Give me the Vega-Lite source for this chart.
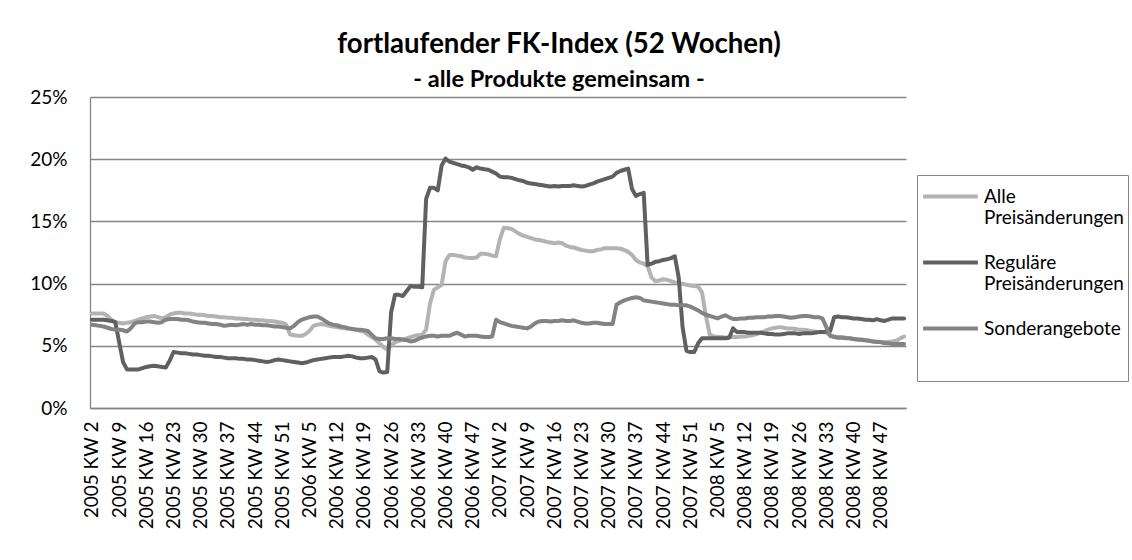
{
"$schema":"https://vega.github.io/schema/vega-lite/v6.json",
"autosize":"none",
"width":816,"height":311,
"padding":{"left":90,"top":97,"right":226,"bottom":152},
"background":"white",
"config":{"view":{"stroke":null},"font":"Lato"},
"title":{"text":"fortlaufender FK-Index (52 Wochen)","subtitle":"- alle Produkte gemeinsam -","font":"Lato","fontWeight":"bold","fontSize":27.6,"color":"black","subtitleFont":"Lato","subtitleFontWeight":"bold","subtitleFontSize":23.5,"subtitleColor":"black","subtitlePadding":9,"anchor":"middle","dx":61,"offset":-3},
"datasets":{
"alle":[
{"w":"2005 KW 2","v":7.6},{"w":"2005 KW 3","v":7.6},{"w":"2005 KW 4","v":7.6},{"w":"2005 KW 5","v":7.6},{"w":"2005 KW 6","v":7.4},{"w":"2005 KW 7","v":7.1},{"w":"2005 KW 8","v":6.9},{"w":"2005 KW 9","v":6.85},{"w":"2005 KW 10","v":6.8},{"w":"2005 KW 11","v":6.85},{"w":"2005 KW 12","v":6.9},{"w":"2005 KW 13","v":7.0},{"w":"2005 KW 14","v":7.1},{"w":"2005 KW 15","v":7.2},{"w":"2005 KW 16","v":7.3},{"w":"2005 KW 17","v":7.35},{"w":"2005 KW 18","v":7.4},{"w":"2005 KW 19","v":7.3},{"w":"2005 KW 20","v":7.2},{"w":"2005 KW 21","v":7.3},{"w":"2005 KW 22","v":7.5},{"w":"2005 KW 23","v":7.6},{"w":"2005 KW 24","v":7.65},{"w":"2005 KW 25","v":7.65},{"w":"2005 KW 26","v":7.6},{"w":"2005 KW 27","v":7.6},{"w":"2005 KW 28","v":7.55},{"w":"2005 KW 29","v":7.5},{"w":"2005 KW 30","v":7.5},{"w":"2005 KW 31","v":7.45},{"w":"2005 KW 32","v":7.4},{"w":"2005 KW 33","v":7.4},{"w":"2005 KW 34","v":7.35},{"w":"2005 KW 35","v":7.3},{"w":"2005 KW 36","v":7.3},{"w":"2005 KW 37","v":7.25},{"w":"2005 KW 38","v":7.25},{"w":"2005 KW 39","v":7.2},{"w":"2005 KW 40","v":7.2},{"w":"2005 KW 41","v":7.15},{"w":"2005 KW 42","v":7.15},{"w":"2005 KW 43","v":7.1},{"w":"2005 KW 44","v":7.1},{"w":"2005 KW 45","v":7.05},{"w":"2005 KW 46","v":7.05},{"w":"2005 KW 47","v":7.0},{"w":"2005 KW 48","v":7.0},{"w":"2005 KW 49","v":6.95},{"w":"2005 KW 50","v":6.9},{"w":"2005 KW 51","v":6.85},{"w":"2005 KW 52","v":6.7},{"w":"2005 KW 53","v":5.9},
{"w":"2006 KW 1","v":5.85},{"w":"2006 KW 2","v":5.8},{"w":"2006 KW 3","v":5.8},{"w":"2006 KW 4","v":5.95},{"w":"2006 KW 5","v":6.2},{"w":"2006 KW 6","v":6.6},{"w":"2006 KW 7","v":6.7},{"w":"2006 KW 8","v":6.75},{"w":"2006 KW 9","v":6.7},{"w":"2006 KW 10","v":6.6},{"w":"2006 KW 11","v":6.55},{"w":"2006 KW 12","v":6.5},{"w":"2006 KW 13","v":6.45},{"w":"2006 KW 14","v":6.4},{"w":"2006 KW 15","v":6.4},{"w":"2006 KW 16","v":6.35},{"w":"2006 KW 17","v":6.3},{"w":"2006 KW 18","v":6.2},{"w":"2006 KW 19","v":6.15},{"w":"2006 KW 20","v":5.9},{"w":"2006 KW 21","v":5.7},{"w":"2006 KW 22","v":5.5},{"w":"2006 KW 23","v":5.2},{"w":"2006 KW 24","v":4.9},{"w":"2006 KW 25","v":4.7},{"w":"2006 KW 26","v":5.0},{"w":"2006 KW 27","v":5.3},{"w":"2006 KW 28","v":5.4},{"w":"2006 KW 29","v":5.5},{"w":"2006 KW 30","v":5.6},{"w":"2006 KW 31","v":5.7},{"w":"2006 KW 32","v":5.8},{"w":"2006 KW 33","v":5.85},{"w":"2006 KW 34","v":5.9},{"w":"2006 KW 35","v":6.3},{"w":"2006 KW 36","v":8.4},{"w":"2006 KW 37","v":9.5},{"w":"2006 KW 38","v":9.7},{"w":"2006 KW 39","v":9.9},{"w":"2006 KW 40","v":11.8},{"w":"2006 KW 41","v":12.3},{"w":"2006 KW 42","v":12.3},{"w":"2006 KW 43","v":12.25},{"w":"2006 KW 44","v":12.2},{"w":"2006 KW 45","v":12.1},{"w":"2006 KW 46","v":12.05},{"w":"2006 KW 47","v":12.05},{"w":"2006 KW 48","v":12.1},{"w":"2006 KW 49","v":12.4},{"w":"2006 KW 50","v":12.4},{"w":"2006 KW 51","v":12.35},{"w":"2006 KW 52","v":12.25},
{"w":"2007 KW 1","v":12.2},{"w":"2007 KW 2","v":13.6},{"w":"2007 KW 3","v":14.5},{"w":"2007 KW 4","v":14.45},{"w":"2007 KW 5","v":14.4},{"w":"2007 KW 6","v":14.2},{"w":"2007 KW 7","v":14.0},{"w":"2007 KW 8","v":13.85},{"w":"2007 KW 9","v":13.75},{"w":"2007 KW 10","v":13.65},{"w":"2007 KW 11","v":13.55},{"w":"2007 KW 12","v":13.5},{"w":"2007 KW 13","v":13.45},{"w":"2007 KW 14","v":13.35},{"w":"2007 KW 15","v":13.3},{"w":"2007 KW 16","v":13.25},{"w":"2007 KW 17","v":13.3},{"w":"2007 KW 18","v":13.25},{"w":"2007 KW 19","v":13.05},{"w":"2007 KW 20","v":12.95},{"w":"2007 KW 21","v":12.9},{"w":"2007 KW 22","v":12.8},{"w":"2007 KW 23","v":12.7},{"w":"2007 KW 24","v":12.65},{"w":"2007 KW 25","v":12.6},{"w":"2007 KW 26","v":12.6},{"w":"2007 KW 27","v":12.7},{"w":"2007 KW 28","v":12.75},{"w":"2007 KW 29","v":12.85},{"w":"2007 KW 30","v":12.85},{"w":"2007 KW 31","v":12.85},{"w":"2007 KW 32","v":12.85},{"w":"2007 KW 33","v":12.8},{"w":"2007 KW 34","v":12.7},{"w":"2007 KW 35","v":12.55},{"w":"2007 KW 36","v":12.3},{"w":"2007 KW 37","v":11.9},{"w":"2007 KW 38","v":11.7},{"w":"2007 KW 39","v":11.6},{"w":"2007 KW 40","v":11.4},{"w":"2007 KW 41","v":10.5},{"w":"2007 KW 42","v":10.2},{"w":"2007 KW 43","v":10.25},{"w":"2007 KW 44","v":10.35},{"w":"2007 KW 45","v":10.3},{"w":"2007 KW 46","v":10.2},{"w":"2007 KW 47","v":10.1},{"w":"2007 KW 48","v":10.05},{"w":"2007 KW 49","v":10.0},{"w":"2007 KW 50","v":9.9},{"w":"2007 KW 51","v":9.85},{"w":"2007 KW 52","v":9.8},{"w":"2007 KW 53","v":9.75},
{"w":"2008 KW 1","v":9.3},{"w":"2008 KW 2","v":7.4},{"w":"2008 KW 3","v":5.9},{"w":"2008 KW 4","v":5.75},{"w":"2008 KW 5","v":5.7},{"w":"2008 KW 6","v":5.7},{"w":"2008 KW 7","v":5.65},{"w":"2008 KW 8","v":5.7},{"w":"2008 KW 9","v":5.7},{"w":"2008 KW 10","v":5.7},{"w":"2008 KW 11","v":5.75},{"w":"2008 KW 12","v":5.75},{"w":"2008 KW 13","v":5.8},{"w":"2008 KW 14","v":5.85},{"w":"2008 KW 15","v":5.95},{"w":"2008 KW 16","v":6.05},{"w":"2008 KW 17","v":6.15},{"w":"2008 KW 18","v":6.3},{"w":"2008 KW 19","v":6.4},{"w":"2008 KW 20","v":6.45},{"w":"2008 KW 21","v":6.5},{"w":"2008 KW 22","v":6.45},{"w":"2008 KW 23","v":6.4},{"w":"2008 KW 24","v":6.4},{"w":"2008 KW 25","v":6.35},{"w":"2008 KW 26","v":6.3},{"w":"2008 KW 27","v":6.3},{"w":"2008 KW 28","v":6.25},{"w":"2008 KW 29","v":6.2},{"w":"2008 KW 30","v":6.15},{"w":"2008 KW 31","v":6.1},{"w":"2008 KW 32","v":6.1},{"w":"2008 KW 33","v":6.05},{"w":"2008 KW 34","v":5.85},{"w":"2008 KW 35","v":5.75},{"w":"2008 KW 36","v":5.7},{"w":"2008 KW 37","v":5.7},{"w":"2008 KW 38","v":5.65},{"w":"2008 KW 39","v":5.6},{"w":"2008 KW 40","v":5.55},{"w":"2008 KW 41","v":5.5},{"w":"2008 KW 42","v":5.45},{"w":"2008 KW 43","v":5.45},{"w":"2008 KW 44","v":5.4},{"w":"2008 KW 45","v":5.35},{"w":"2008 KW 46","v":5.35},{"w":"2008 KW 47","v":5.3},{"w":"2008 KW 48","v":5.3},{"w":"2008 KW 49","v":5.3},{"w":"2008 KW 50","v":5.35},{"w":"2008 KW 51","v":5.4},{"w":"2008 KW 52","v":5.6},{"w":"2009 KW 1","v":5.75}
],
"regulaer":[
{"w":"2005 KW 2","v":7.1},{"w":"2005 KW 3","v":7.1},{"w":"2005 KW 4","v":7.1},{"w":"2005 KW 5","v":7.1},{"w":"2005 KW 6","v":7.05},{"w":"2005 KW 7","v":7.0},{"w":"2005 KW 8","v":6.9},{"w":"2005 KW 9","v":5.3},{"w":"2005 KW 10","v":3.7},{"w":"2005 KW 11","v":3.1},{"w":"2005 KW 12","v":3.1},{"w":"2005 KW 13","v":3.1},{"w":"2005 KW 14","v":3.1},{"w":"2005 KW 15","v":3.2},{"w":"2005 KW 16","v":3.3},{"w":"2005 KW 17","v":3.35},{"w":"2005 KW 18","v":3.4},{"w":"2005 KW 19","v":3.35},{"w":"2005 KW 20","v":3.3},{"w":"2005 KW 21","v":3.25},{"w":"2005 KW 22","v":3.8},{"w":"2005 KW 23","v":4.5},{"w":"2005 KW 24","v":4.45},{"w":"2005 KW 25","v":4.4},{"w":"2005 KW 26","v":4.4},{"w":"2005 KW 27","v":4.35},{"w":"2005 KW 28","v":4.3},{"w":"2005 KW 29","v":4.3},{"w":"2005 KW 30","v":4.25},{"w":"2005 KW 31","v":4.2},{"w":"2005 KW 32","v":4.2},{"w":"2005 KW 33","v":4.15},{"w":"2005 KW 34","v":4.1},{"w":"2005 KW 35","v":4.1},{"w":"2005 KW 36","v":4.05},{"w":"2005 KW 37","v":4.0},{"w":"2005 KW 38","v":4.0},{"w":"2005 KW 39","v":4.0},{"w":"2005 KW 40","v":3.95},{"w":"2005 KW 41","v":3.95},{"w":"2005 KW 42","v":3.9},{"w":"2005 KW 43","v":3.9},{"w":"2005 KW 44","v":3.85},{"w":"2005 KW 45","v":3.8},{"w":"2005 KW 46","v":3.75},{"w":"2005 KW 47","v":3.7},{"w":"2005 KW 48","v":3.75},{"w":"2005 KW 49","v":3.85},{"w":"2005 KW 50","v":3.9},{"w":"2005 KW 51","v":3.85},{"w":"2005 KW 52","v":3.8},{"w":"2005 KW 53","v":3.75},
{"w":"2006 KW 1","v":3.7},{"w":"2006 KW 2","v":3.65},{"w":"2006 KW 3","v":3.6},{"w":"2006 KW 4","v":3.65},{"w":"2006 KW 5","v":3.75},{"w":"2006 KW 6","v":3.85},{"w":"2006 KW 7","v":3.9},{"w":"2006 KW 8","v":3.95},{"w":"2006 KW 9","v":4.0},{"w":"2006 KW 10","v":4.05},{"w":"2006 KW 11","v":4.1},{"w":"2006 KW 12","v":4.1},{"w":"2006 KW 13","v":4.1},{"w":"2006 KW 14","v":4.15},{"w":"2006 KW 15","v":4.2},{"w":"2006 KW 16","v":4.15},{"w":"2006 KW 17","v":4.05},{"w":"2006 KW 18","v":4.0},{"w":"2006 KW 19","v":4.0},{"w":"2006 KW 20","v":4.05},{"w":"2006 KW 21","v":4.1},{"w":"2006 KW 22","v":3.9},{"w":"2006 KW 23","v":2.95},{"w":"2006 KW 24","v":2.85},{"w":"2006 KW 25","v":2.9},{"w":"2006 KW 26","v":7.7},{"w":"2006 KW 27","v":9.1},{"w":"2006 KW 28","v":9.1},{"w":"2006 KW 29","v":9.0},{"w":"2006 KW 30","v":9.4},{"w":"2006 KW 31","v":9.8},{"w":"2006 KW 32","v":9.75},{"w":"2006 KW 33","v":9.75},{"w":"2006 KW 34","v":9.7},{"w":"2006 KW 35","v":16.8},{"w":"2006 KW 36","v":17.7},{"w":"2006 KW 37","v":17.7},{"w":"2006 KW 38","v":17.5},{"w":"2006 KW 39","v":19.5},{"w":"2006 KW 40","v":20.05},{"w":"2006 KW 41","v":19.8},{"w":"2006 KW 42","v":19.7},{"w":"2006 KW 43","v":19.6},{"w":"2006 KW 44","v":19.5},{"w":"2006 KW 45","v":19.45},{"w":"2006 KW 46","v":19.35},{"w":"2006 KW 47","v":19.15},{"w":"2006 KW 48","v":19.35},{"w":"2006 KW 49","v":19.25},{"w":"2006 KW 50","v":19.2},{"w":"2006 KW 51","v":19.15},{"w":"2006 KW 52","v":19.0},
{"w":"2007 KW 1","v":18.85},{"w":"2007 KW 2","v":18.6},{"w":"2007 KW 3","v":18.55},{"w":"2007 KW 4","v":18.55},{"w":"2007 KW 5","v":18.5},{"w":"2007 KW 6","v":18.4},{"w":"2007 KW 7","v":18.3},{"w":"2007 KW 8","v":18.25},{"w":"2007 KW 9","v":18.1},{"w":"2007 KW 10","v":18.05},{"w":"2007 KW 11","v":18.0},{"w":"2007 KW 12","v":17.95},{"w":"2007 KW 13","v":17.9},{"w":"2007 KW 14","v":17.85},{"w":"2007 KW 15","v":17.8},{"w":"2007 KW 16","v":17.85},{"w":"2007 KW 17","v":17.8},{"w":"2007 KW 18","v":17.85},{"w":"2007 KW 19","v":17.85},{"w":"2007 KW 20","v":17.85},{"w":"2007 KW 21","v":17.9},{"w":"2007 KW 22","v":17.85},{"w":"2007 KW 23","v":17.8},{"w":"2007 KW 24","v":17.85},{"w":"2007 KW 25","v":17.95},{"w":"2007 KW 26","v":18.05},{"w":"2007 KW 27","v":18.2},{"w":"2007 KW 28","v":18.3},{"w":"2007 KW 29","v":18.4},{"w":"2007 KW 30","v":18.5},{"w":"2007 KW 31","v":18.6},{"w":"2007 KW 32","v":18.9},{"w":"2007 KW 33","v":19.05},{"w":"2007 KW 34","v":19.15},{"w":"2007 KW 35","v":19.25},{"w":"2007 KW 36","v":17.6},{"w":"2007 KW 37","v":17.05},{"w":"2007 KW 38","v":17.2},{"w":"2007 KW 39","v":17.3},{"w":"2007 KW 40","v":11.5},{"w":"2007 KW 41","v":11.6},{"w":"2007 KW 42","v":11.75},{"w":"2007 KW 43","v":11.8},{"w":"2007 KW 44","v":11.9},{"w":"2007 KW 45","v":11.95},{"w":"2007 KW 46","v":12.05},{"w":"2007 KW 47","v":12.2},{"w":"2007 KW 48","v":10.5},{"w":"2007 KW 49","v":6.5},{"w":"2007 KW 50","v":4.6},{"w":"2007 KW 51","v":4.5},{"w":"2007 KW 52","v":4.5},{"w":"2007 KW 53","v":5.2},
{"w":"2008 KW 1","v":5.6},{"w":"2008 KW 2","v":5.6},{"w":"2008 KW 3","v":5.6},{"w":"2008 KW 4","v":5.6},{"w":"2008 KW 5","v":5.6},{"w":"2008 KW 6","v":5.6},{"w":"2008 KW 7","v":5.6},{"w":"2008 KW 8","v":5.65},{"w":"2008 KW 9","v":6.4},{"w":"2008 KW 10","v":6.1},{"w":"2008 KW 11","v":6.1},{"w":"2008 KW 12","v":6.1},{"w":"2008 KW 13","v":6.05},{"w":"2008 KW 14","v":6.05},{"w":"2008 KW 15","v":6.05},{"w":"2008 KW 16","v":6.05},{"w":"2008 KW 17","v":6.0},{"w":"2008 KW 18","v":5.95},{"w":"2008 KW 19","v":5.95},{"w":"2008 KW 20","v":5.9},{"w":"2008 KW 21","v":5.9},{"w":"2008 KW 22","v":5.95},{"w":"2008 KW 23","v":6.0},{"w":"2008 KW 24","v":6.0},{"w":"2008 KW 25","v":6.0},{"w":"2008 KW 26","v":5.95},{"w":"2008 KW 27","v":6.0},{"w":"2008 KW 28","v":6.0},{"w":"2008 KW 29","v":6.0},{"w":"2008 KW 30","v":6.05},{"w":"2008 KW 31","v":6.1},{"w":"2008 KW 32","v":6.1},{"w":"2008 KW 33","v":6.15},{"w":"2008 KW 34","v":6.2},{"w":"2008 KW 35","v":7.3},{"w":"2008 KW 36","v":7.35},{"w":"2008 KW 37","v":7.3},{"w":"2008 KW 38","v":7.3},{"w":"2008 KW 39","v":7.25},{"w":"2008 KW 40","v":7.2},{"w":"2008 KW 41","v":7.2},{"w":"2008 KW 42","v":7.15},{"w":"2008 KW 43","v":7.1},{"w":"2008 KW 44","v":7.1},{"w":"2008 KW 45","v":7.05},{"w":"2008 KW 46","v":7.15},{"w":"2008 KW 47","v":7.05},{"w":"2008 KW 48","v":7.0},{"w":"2008 KW 49","v":7.1},{"w":"2008 KW 50","v":7.2},{"w":"2008 KW 51","v":7.2},{"w":"2008 KW 52","v":7.2},{"w":"2009 KW 1","v":7.2}
],
"sonder":[
{"w":"2005 KW 2","v":6.7},{"w":"2005 KW 3","v":6.65},{"w":"2005 KW 4","v":6.6},{"w":"2005 KW 5","v":6.55},{"w":"2005 KW 6","v":6.45},{"w":"2005 KW 7","v":6.35},{"w":"2005 KW 8","v":6.3},{"w":"2005 KW 9","v":6.3},{"w":"2005 KW 10","v":6.25},{"w":"2005 KW 11","v":6.15},{"w":"2005 KW 12","v":6.4},{"w":"2005 KW 13","v":6.8},{"w":"2005 KW 14","v":6.9},{"w":"2005 KW 15","v":6.9},{"w":"2005 KW 16","v":6.95},{"w":"2005 KW 17","v":6.95},{"w":"2005 KW 18","v":6.9},{"w":"2005 KW 19","v":6.85},{"w":"2005 KW 20","v":6.9},{"w":"2005 KW 21","v":7.1},{"w":"2005 KW 22","v":7.15},{"w":"2005 KW 23","v":7.15},{"w":"2005 KW 24","v":7.15},{"w":"2005 KW 25","v":7.1},{"w":"2005 KW 26","v":7.1},{"w":"2005 KW 27","v":7.05},{"w":"2005 KW 28","v":6.95},{"w":"2005 KW 29","v":6.9},{"w":"2005 KW 30","v":6.85},{"w":"2005 KW 31","v":6.85},{"w":"2005 KW 32","v":6.8},{"w":"2005 KW 33","v":6.75},{"w":"2005 KW 34","v":6.75},{"w":"2005 KW 35","v":6.7},{"w":"2005 KW 36","v":6.6},{"w":"2005 KW 37","v":6.65},{"w":"2005 KW 38","v":6.7},{"w":"2005 KW 39","v":6.65},{"w":"2005 KW 40","v":6.7},{"w":"2005 KW 41","v":6.75},{"w":"2005 KW 42","v":6.7},{"w":"2005 KW 43","v":6.75},{"w":"2005 KW 44","v":6.7},{"w":"2005 KW 45","v":6.7},{"w":"2005 KW 46","v":6.65},{"w":"2005 KW 47","v":6.65},{"w":"2005 KW 48","v":6.6},{"w":"2005 KW 49","v":6.55},{"w":"2005 KW 50","v":6.55},{"w":"2005 KW 51","v":6.5},{"w":"2005 KW 52","v":6.45},{"w":"2005 KW 53","v":6.4},
{"w":"2006 KW 1","v":6.6},{"w":"2006 KW 2","v":6.9},{"w":"2006 KW 3","v":7.1},{"w":"2006 KW 4","v":7.2},{"w":"2006 KW 5","v":7.3},{"w":"2006 KW 6","v":7.35},{"w":"2006 KW 7","v":7.35},{"w":"2006 KW 8","v":7.2},{"w":"2006 KW 9","v":7.0},{"w":"2006 KW 10","v":6.8},{"w":"2006 KW 11","v":6.7},{"w":"2006 KW 12","v":6.65},{"w":"2006 KW 13","v":6.55},{"w":"2006 KW 14","v":6.5},{"w":"2006 KW 15","v":6.4},{"w":"2006 KW 16","v":6.35},{"w":"2006 KW 17","v":6.3},{"w":"2006 KW 18","v":6.3},{"w":"2006 KW 19","v":6.25},{"w":"2006 KW 20","v":6.2},{"w":"2006 KW 21","v":5.9},{"w":"2006 KW 22","v":5.6},{"w":"2006 KW 23","v":5.55},{"w":"2006 KW 24","v":5.55},{"w":"2006 KW 25","v":5.6},{"w":"2006 KW 26","v":5.6},{"w":"2006 KW 27","v":5.55},{"w":"2006 KW 28","v":5.55},{"w":"2006 KW 29","v":5.5},{"w":"2006 KW 30","v":5.45},{"w":"2006 KW 31","v":5.35},{"w":"2006 KW 32","v":5.4},{"w":"2006 KW 33","v":5.55},{"w":"2006 KW 34","v":5.65},{"w":"2006 KW 35","v":5.75},{"w":"2006 KW 36","v":5.8},{"w":"2006 KW 37","v":5.8},{"w":"2006 KW 38","v":5.75},{"w":"2006 KW 39","v":5.8},{"w":"2006 KW 40","v":5.8},{"w":"2006 KW 41","v":5.8},{"w":"2006 KW 42","v":5.95},{"w":"2006 KW 43","v":6.05},{"w":"2006 KW 44","v":5.9},{"w":"2006 KW 45","v":5.75},{"w":"2006 KW 46","v":5.8},{"w":"2006 KW 47","v":5.8},{"w":"2006 KW 48","v":5.8},{"w":"2006 KW 49","v":5.75},{"w":"2006 KW 50","v":5.7},{"w":"2006 KW 51","v":5.7},{"w":"2006 KW 52","v":5.75},
{"w":"2007 KW 1","v":7.1},{"w":"2007 KW 2","v":6.9},{"w":"2007 KW 3","v":6.8},{"w":"2007 KW 4","v":6.7},{"w":"2007 KW 5","v":6.6},{"w":"2007 KW 6","v":6.55},{"w":"2007 KW 7","v":6.5},{"w":"2007 KW 8","v":6.45},{"w":"2007 KW 9","v":6.4},{"w":"2007 KW 10","v":6.55},{"w":"2007 KW 11","v":6.8},{"w":"2007 KW 12","v":6.95},{"w":"2007 KW 13","v":7.0},{"w":"2007 KW 14","v":7.0},{"w":"2007 KW 15","v":6.95},{"w":"2007 KW 16","v":7.0},{"w":"2007 KW 17","v":7.0},{"w":"2007 KW 18","v":7.05},{"w":"2007 KW 19","v":7.0},{"w":"2007 KW 20","v":7.0},{"w":"2007 KW 21","v":7.05},{"w":"2007 KW 22","v":6.95},{"w":"2007 KW 23","v":6.85},{"w":"2007 KW 24","v":6.8},{"w":"2007 KW 25","v":6.8},{"w":"2007 KW 26","v":6.85},{"w":"2007 KW 27","v":6.85},{"w":"2007 KW 28","v":6.8},{"w":"2007 KW 29","v":6.75},{"w":"2007 KW 30","v":6.75},{"w":"2007 KW 31","v":6.75},{"w":"2007 KW 32","v":8.3},{"w":"2007 KW 33","v":8.5},{"w":"2007 KW 34","v":8.65},{"w":"2007 KW 35","v":8.75},{"w":"2007 KW 36","v":8.85},{"w":"2007 KW 37","v":8.9},{"w":"2007 KW 38","v":8.85},{"w":"2007 KW 39","v":8.65},{"w":"2007 KW 40","v":8.6},{"w":"2007 KW 41","v":8.55},{"w":"2007 KW 42","v":8.5},{"w":"2007 KW 43","v":8.45},{"w":"2007 KW 44","v":8.4},{"w":"2007 KW 45","v":8.35},{"w":"2007 KW 46","v":8.3},{"w":"2007 KW 47","v":8.3},{"w":"2007 KW 48","v":8.25},{"w":"2007 KW 49","v":8.25},{"w":"2007 KW 50","v":8.25},{"w":"2007 KW 51","v":8.15},{"w":"2007 KW 52","v":8.0},{"w":"2007 KW 53","v":7.85},
{"w":"2008 KW 1","v":7.65},{"w":"2008 KW 2","v":7.5},{"w":"2008 KW 3","v":7.4},{"w":"2008 KW 4","v":7.3},{"w":"2008 KW 5","v":7.2},{"w":"2008 KW 6","v":7.35},{"w":"2008 KW 7","v":7.45},{"w":"2008 KW 8","v":7.3},{"w":"2008 KW 9","v":7.15},{"w":"2008 KW 10","v":7.15},{"w":"2008 KW 11","v":7.2},{"w":"2008 KW 12","v":7.2},{"w":"2008 KW 13","v":7.25},{"w":"2008 KW 14","v":7.25},{"w":"2008 KW 15","v":7.3},{"w":"2008 KW 16","v":7.3},{"w":"2008 KW 17","v":7.3},{"w":"2008 KW 18","v":7.35},{"w":"2008 KW 19","v":7.35},{"w":"2008 KW 20","v":7.4},{"w":"2008 KW 21","v":7.4},{"w":"2008 KW 22","v":7.35},{"w":"2008 KW 23","v":7.3},{"w":"2008 KW 24","v":7.25},{"w":"2008 KW 25","v":7.3},{"w":"2008 KW 26","v":7.35},{"w":"2008 KW 27","v":7.4},{"w":"2008 KW 28","v":7.4},{"w":"2008 KW 29","v":7.35},{"w":"2008 KW 30","v":7.3},{"w":"2008 KW 31","v":7.3},{"w":"2008 KW 32","v":7.2},{"w":"2008 KW 33","v":6.5},{"w":"2008 KW 34","v":5.8},{"w":"2008 KW 35","v":5.7},{"w":"2008 KW 36","v":5.65},{"w":"2008 KW 37","v":5.65},{"w":"2008 KW 38","v":5.6},{"w":"2008 KW 39","v":5.6},{"w":"2008 KW 40","v":5.55},{"w":"2008 KW 41","v":5.5},{"w":"2008 KW 42","v":5.5},{"w":"2008 KW 43","v":5.45},{"w":"2008 KW 44","v":5.4},{"w":"2008 KW 45","v":5.35},{"w":"2008 KW 46","v":5.3},{"w":"2008 KW 47","v":5.3},{"w":"2008 KW 48","v":5.2},{"w":"2008 KW 49","v":5.2},{"w":"2008 KW 50","v":5.15},{"w":"2008 KW 51","v":5.15},{"w":"2008 KW 52","v":5.15},{"w":"2009 KW 1","v":5.15}
]
},
"encoding":{
"x":{"field":"w","type":"ordinal","sort":null,"scale":{"type":"point","padding":0.5},
"axis":{"title":null,"values":["2005 KW 2","2005 KW 9","2005 KW 16","2005 KW 23","2005 KW 30","2005 KW 37","2005 KW 44","2005 KW 51","2006 KW 5","2006 KW 12","2006 KW 19","2006 KW 26","2006 KW 33","2006 KW 40","2006 KW 47","2007 KW 2","2007 KW 9","2007 KW 16","2007 KW 23","2007 KW 30","2007 KW 37","2007 KW 44","2007 KW 51","2008 KW 5","2008 KW 12","2008 KW 19","2008 KW 26","2008 KW 33","2008 KW 40","2008 KW 47"],
"labelAngle":-90,"labelAlign":"right","labelBaseline":"middle","labelPadding":13,"labelFont":"Lato","labelFontSize":19,"labelColor":"black","labelOverlap":false,"labelBound":false,"ticks":false,"grid":false,"domainColor":"#868686","domainWidth":1.3}},
"y":{"field":"v","type":"quantitative","scale":{"domain":[0,25],"nice":false,"zero":true},
"axis":{"title":null,"values":[0,5,10,15,20,25],"labelExpr":"datum.value + '%'","labelFont":"Lato","labelFontSize":19,"labelColor":"black","labelPadding":23,"ticks":false,"grid":true,"gridColor":"#868686","gridWidth":1.3,"domainColor":"#868686","domainWidth":1.3}}
},
"layer":[
{"data":{"name":"alle"},"mark":{"type":"line","strokeWidth":4,"strokeCap":"round","strokeJoin":"round"},
"encoding":{"color":{"datum":"Alle Preisänderungen","type":"nominal","scale":{"domain":["Alle Preisänderungen","Reguläre Preisänderungen","Sonderangebote"],"range":["#b3b3b3","#606060","#838383"]},
"legend":{"orient":"none","legendX":827,"legendY":78,"title":" ","titleOrient":"bottom","titleFontSize":19,"titlePadding":12,"symbolType":"stroke","symbolSize":3000,"symbolStrokeWidth":4,"clipHeight":35,"labelFont":"Lato","labelFontSize":19,"labelColor":"black","labelLimit":400,"labelOffset":4,"labelBaseline":"middle","labelExpr":"datum.label == 'Sonderangebote' ? datum.label : split(datum.label, ' ')","strokeColor":"#868686","fillColor":"white","padding":4,"rowPadding":17}}}},
{"data":{"name":"regulaer"},"mark":{"type":"line","strokeWidth":4,"strokeCap":"round","strokeJoin":"round"},
"encoding":{"color":{"datum":"Reguläre Preisänderungen","type":"nominal"}}},
{"data":{"name":"sonder"},"mark":{"type":"line","strokeWidth":4,"strokeCap":"round","strokeJoin":"round"},
"encoding":{"color":{"datum":"Sonderangebote","type":"nominal"}}}
]
}
